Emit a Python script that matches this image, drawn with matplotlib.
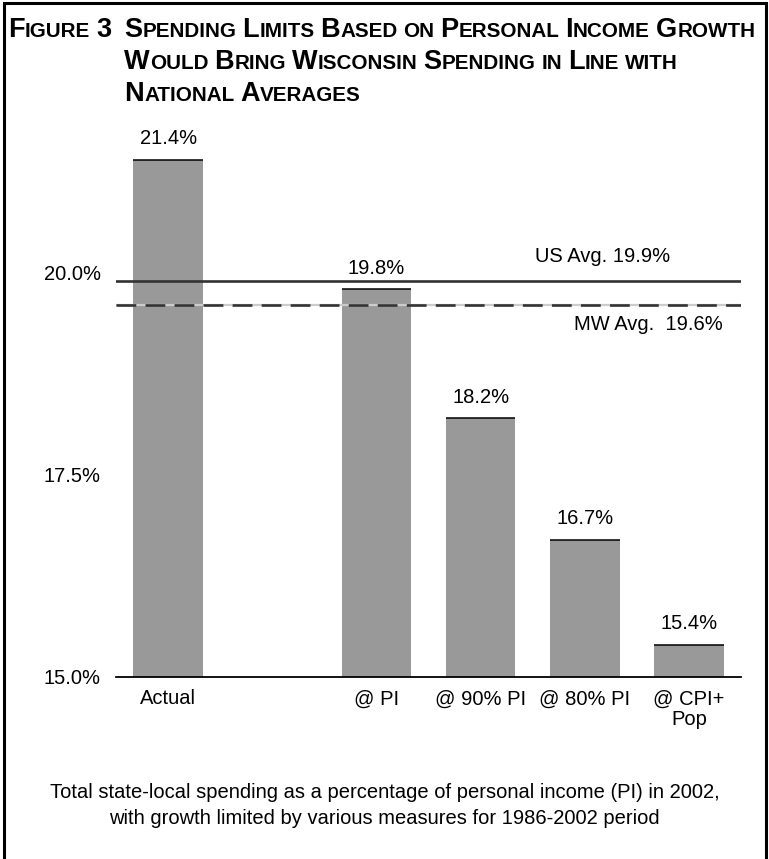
import matplotlib
matplotlib.use("Agg")
import matplotlib.pyplot as plt
from matplotlib.patches import Rectangle

plt.rcParams['font.family'] = ['Liberation Sans', 'DejaVu Sans']

# data
categories = ["Actual", "@ PI", "@ 90% PI", "@ 80% PI", "@ CPI+\nPop"]
positions = [0, 2, 3, 4, 5]
values = [21.4, 19.8, 18.2, 16.7, 15.4]
value_labels = ["21.4%", "19.8%", "18.2%", "16.7%", "15.4%"]
us_avg = 19.9
mw_avg = 19.6
yticks = [15.0, 17.5, 20.0]
ytick_labels = ["15.0%", "17.5%", "20.0%"]

W, H = 769, 859
fig = plt.figure(figsize=(W / 100, H / 100), dpi=100)

# frame round the figure (bottom edge runs off the page)
fig.patches.append(Rectangle((3.5 / W, -0.05), 1 - 7 / W, 1.05 - 3.5 / H,
                             transform=fig.transFigure, fill=False,
                             edgecolor='black', linewidth=2.2))

ax = fig.add_axes([116 / W, 1 - 677 / H, (741 - 116) / W, 7 * 80.8 / H])
ax.bar(positions, [v - 15 for v in values], bottom=15, width=0.67,
       color='#999999', edgecolor='none', zorder=2)
# thin black line on top of each bar
for p, v in zip(positions, values):
    ax.plot([p - 0.335, p + 0.335], [v, v], color='black', lw=1.1,
            solid_capstyle='butt', zorder=3)
for p, v, lab in zip(positions, values, value_labels):
    ax.text(p, v + 0.26, lab, ha='center', va='center', fontsize=14.5)

# average lines
ax.axhline(us_avg, color='#333333', lw=1.9, zorder=4)
ax.axhline(mw_avg, color='#cccccc', lw=1.6, zorder=4)
ax.axhline(mw_avg, color='#333333', lw=1.9, linestyle=(0, (7.5, 3.5)), zorder=5)
ax.text(4.82, us_avg + 0.31, "US Avg. 19.9%", ha='right', va='center', fontsize=14.5)
ax.text(5.32, mw_avg - 0.24, "MW Avg.  19.6%", ha='right', va='center', fontsize=14.5)

ax.set_xlim(-0.5, 5.5)
ax.set_ylim(15, 22)
ax.set_xticks(positions)
ax.set_xticklabels(categories, fontsize=14.5, linespacing=1.12)
ax.set_yticks(yticks)
ax.set_yticklabels(ytick_labels, fontsize=14.5)
ax.tick_params(axis='both', length=0)
ax.tick_params(axis='x', pad=9)
ax.tick_params(axis='y', pad=11)
for s in ['top', 'right', 'left']:
    ax.spines[s].set_visible(False)
ax.spines['bottom'].set_linewidth(1.3)

# small caps title
renderer = fig.canvas.get_renderer()


def small_caps(x_px, y_px, s, big=19.5, small=14.9):
    runs = []
    for ch in s:
        kind = 'sp' if ch == ' ' else ('lo' if ch.islower() else 'up')
        if runs and runs[-1][0] == kind:
            runs[-1][1] += ch
        else:
            runs.append([kind, ch])
    x = x_px
    for kind, txt in runs:
        if kind == 'sp':
            x += 5.2 * len(txt)
            continue
        size = small if kind == 'lo' else big
        t = fig.text(x / W, 1 - y_px / H, txt.upper(), fontsize=size,
                     fontweight='bold', va='baseline', ha='left')
        x += t.get_window_extent(renderer).width + 0.5


small_caps(8, 37, "Figure 3")
small_caps(124, 37, "Spending Limits Based on Personal Income Growth")
small_caps(124, 69, "Would Bring Wisconsin Spending in Line with")
small_caps(124, 101, "National Averages")

fig.text(0.5, 1 - 792 / H, "Total state-local spending as a percentage of personal income (PI) in 2002,",
         ha='center', va='center', fontsize=14.5)
fig.text(0.5, 1 - 818 / H, "with growth limited by various measures for 1986-2002 period",
         ha='center', va='center', fontsize=14.5)

fig.savefig("out.png", dpi=100)
